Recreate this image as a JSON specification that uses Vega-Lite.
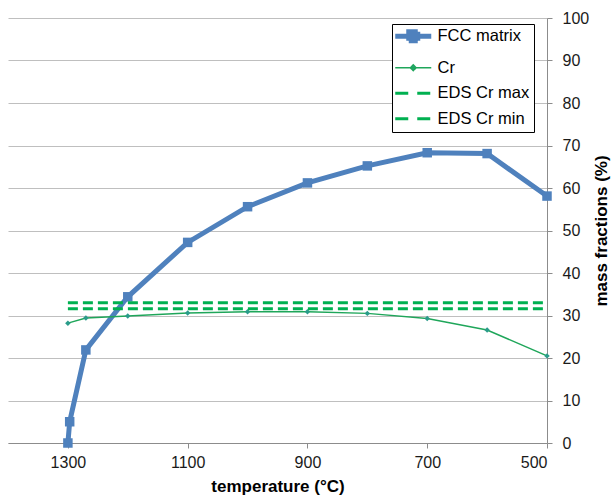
{
  "$schema": "https://vega.github.io/schema/vega-lite/v6.json",
  "autosize": {"type": "none"},
  "padding": {"left": 8, "top": 18, "right": 67, "bottom": 53},
  "width": 539,
  "height": 425,
  "background": "white",
  "config": {
    "view": {"stroke": null},
    "font": "Liberation Sans",
    "axis": {"labelFont": "Liberation Sans", "titleFont": "Liberation Sans", "labelColor": "#1a1a1a", "titleColor": "#000000"}
  },
  "data": {
    "values": [
      {"series": "FCC matrix", "temp": 1300, "value": 0},
      {"series": "FCC matrix", "temp": 1297, "value": 5.0},
      {"series": "FCC matrix", "temp": 1270, "value": 21.9},
      {"series": "FCC matrix", "temp": 1200, "value": 34.4},
      {"series": "FCC matrix", "temp": 1100, "value": 47.2},
      {"series": "FCC matrix", "temp": 1000, "value": 55.6},
      {"series": "FCC matrix", "temp": 900, "value": 61.2},
      {"series": "FCC matrix", "temp": 800, "value": 65.2},
      {"series": "FCC matrix", "temp": 700, "value": 68.3},
      {"series": "FCC matrix", "temp": 600, "value": 68.1},
      {"series": "FCC matrix", "temp": 500, "value": 58.1},
      {"series": "Cr", "temp": 1300, "value": 28.2},
      {"series": "Cr", "temp": 1270, "value": 29.4},
      {"series": "Cr", "temp": 1200, "value": 29.9},
      {"series": "Cr", "temp": 1100, "value": 30.6},
      {"series": "Cr", "temp": 1000, "value": 30.9},
      {"series": "Cr", "temp": 900, "value": 30.9},
      {"series": "Cr", "temp": 800, "value": 30.5},
      {"series": "Cr", "temp": 700, "value": 29.3},
      {"series": "Cr", "temp": 600, "value": 26.6},
      {"series": "Cr", "temp": 500, "value": 20.5},
      {"series": "EDS Cr max", "temp": 1300, "value": 33.0},
      {"series": "EDS Cr max", "temp": 500, "value": 33.0},
      {"series": "EDS Cr min", "temp": 1300, "value": 31.6},
      {"series": "EDS Cr min", "temp": 500, "value": 31.6}
    ]
  },
  "encoding": {
    "x": {
      "field": "temp", "type": "quantitative",
      "scale": {"domain": [500, 1400], "reverse": true, "nice": false, "zero": false},
      "axis": {
        "title": "temperature (°C)", "values": [1300, 1100, 900, 700, 500], "format": "d",
        "grid": false, "domainColor": "#8c8c8c", "tickColor": "#8c8c8c", "tickSize": 5,
        "labelFontSize": 16, "labelPadding": 6, "titleFontSize": 17, "titleFontWeight": "bold", "titlePadding": 8
      }
    },
    "y": {
      "field": "value", "type": "quantitative",
      "scale": {"domain": [0, 100], "nice": false},
      "axis": {
        "orient": "right", "title": "mass fractions (%)", "values": [0, 10, 20, 30, 40, 50, 60, 70, 80, 90, 100],
        "grid": true, "gridColor": "#bfbfbf", "gridWidth": 1,
        "domainColor": "#8c8c8c", "tickColor": "#8c8c8c", "tickSize": 5,
        "labelFontSize": 16, "labelPadding": 10, "titleFontSize": 17, "titleFontWeight": "bold",
        "titleAngle": 270, "titlePadding": 22
      }
    },
    "color": {
      "field": "series", "type": "nominal",
      "scale": {"domain": ["FCC matrix", "Cr", "EDS Cr max", "EDS Cr min"], "range": ["#4f81bd", "#1fa65a", "#00b050", "#00b050"]},
      "legend": {
        "title": null, "orient": "none", "legendX": 384, "legendY": 6,
        "fillColor": "white", "strokeColor": "#000000", "padding": 4,
        "labelFont": "Liberation Sans", "labelFontSize": 16.5, "labelColor": "#000000",
        "symbolSize": 324, "labelOffset": 25, "rowPadding": 8.5,
        "encode": {
          "symbols": {
            "update": {
              "shape": {"signal": "datum.value === 'FCC matrix' ? 'M-1,0H3M0.5,-0.5H1.5V0.5H0.5Z' : datum.value === 'Cr' ? 'M-1,0H3M1,-0.32L1.32,0L1,0.32L0.68,0Z' : 'M-1,0H3'"},
              "fill": {"signal": "datum.value === 'FCC matrix' ? '#4f81bd' : datum.value === 'Cr' ? '#2a9c8a' : 'transparent'"},
              "strokeWidth": {"signal": "datum.value === 'FCC matrix' ? 5 : datum.value === 'Cr' ? 1.5 : 3"},
              "strokeDash": {"signal": "datum.value === 'EDS Cr max' || datum.value === 'EDS Cr min' ? [13, 9] : [1, 0]"}
            }
          }
        }
      }
    }
  },
  "layer": [
    {
      "transform": [{"filter": "datum.series === 'FCC matrix'"}],
      "mark": {"type": "line", "strokeWidth": 5, "strokeCap": "butt"},
      "encoding": {}
    },
    {
      "transform": [{"filter": "datum.series === 'FCC matrix'"}],
      "mark": {"type": "point", "shape": "square", "filled": true, "size": 90, "opacity": 1},
      "encoding": {"color": {"value": "#4f81bd"}}
    },
    {
      "transform": [{"filter": "datum.series === 'Cr'"}],
      "mark": {"type": "line", "strokeWidth": 1.5},
      "encoding": {}
    },
    {
      "transform": [{"filter": "datum.series === 'Cr'"}],
      "mark": {"type": "point", "shape": "diamond", "filled": true, "size": 30, "opacity": 1},
      "encoding": {"color": {"value": "#2a9c8a"}}
    },
    {
      "transform": [{"filter": "datum.series === 'EDS Cr max' || datum.series === 'EDS Cr min'"}],
      "mark": {"type": "line", "strokeWidth": 3, "strokeDash": [10, 5], "strokeCap": "butt"},
      "encoding": {"detail": {"field": "series"}}
    }
  ]
}
